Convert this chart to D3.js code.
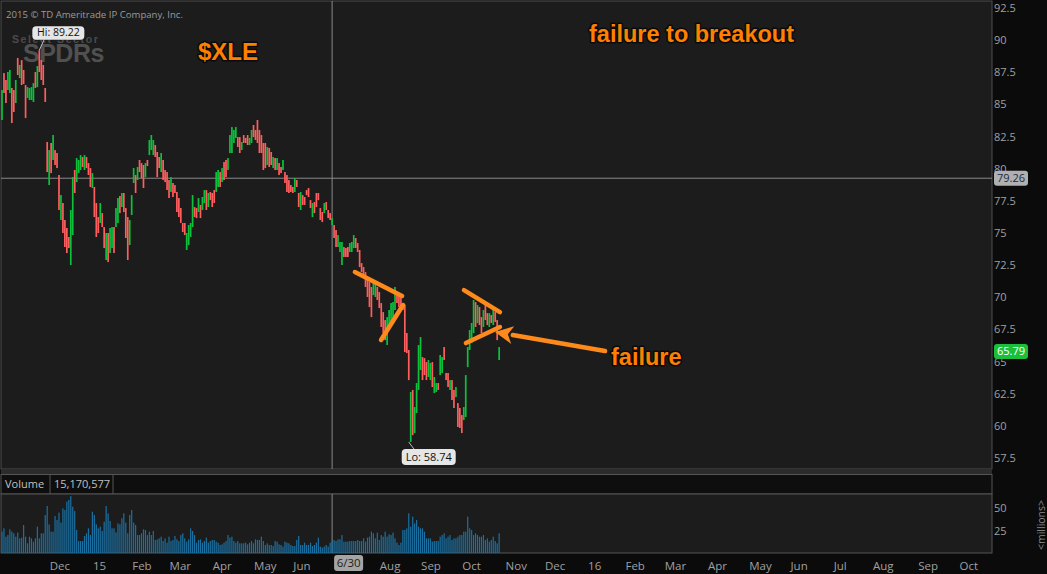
<!DOCTYPE html>
<html><head><meta charset="utf-8">
<script src="https://cdn.jsdelivr.net/npm/d3@7"></script>
<style>
html,body{margin:0;padding:0;background:#0b0b0b;overflow:hidden;}
svg{display:block;font-family:"Open Sans","Noto Sans",sans-serif;}
</style></head><body>
<svg id="c" width="1047" height="574"></svg>
<script>
// ---------- DATA ----------
const highs = [
86.12,87.44,86.90,87.52,87.68,86.28,86.12,86.90,88.61,88.07,
88.45,87.68,86.51,86.35,86.28,86.35,86.66,87.52,87.99,89.22,
88.45,88.07,86.28,82.08,81.45,82.00,82.62,81.45,81.22,79.51,
77.95,77.33,76.01,75.39,74.69,76.79,79.35,79.90,80.83,80.68,
81.06,80.91,81.06,80.91,80.44,80.05,79.66,78.58,77.33,76.24,
77.33,76.55,75.46,75.00,75.00,75.39,75.46,75.46,76.94,77.72,
77.88,78.11,78.11,76.94,76.24,76.01,77.95,80.05,79.51,80.13,
80.68,80.44,80.29,80.44,80.68,82.23,82.62,82.23,81.84,81.30,
80.91,81.22,80.68,79.90,79.74,79.12,79.35,78.89,78.73,78.19,
77.72,76.94,75.78,75.78,75.00,75.62,75.78,77.95,77.02,76.94,
77.72,77.18,77.80,78.34,78.34,78.11,78.19,78.11,78.34,79.74,
79.90,79.74,80.05,80.52,80.68,80.83,82.62,83.24,83.01,83.24,
82.46,82.46,82.08,82.62,82.39,82.62,82.39,83.01,83.40,83.01,
83.79,83.01,82.62,82.00,82.00,81.69,81.61,81.30,80.91,80.83,
80.83,80.44,80.13,80.68,79.74,79.51,79.12,78.73,78.58,79.28,
79.12,78.11,78.19,77.95,77.80,78.34,78.50,77.56,77.33,77.41,
78.11,78.11,76.94,76.63,77.33,77.41,76.79,76.55,76.16,75.62,
75.23,74.84,74.30,74.30,73.91,73.83,73.91,74.22,74.30,74.84,
74.61,74.22,73.68,72.66,72.35,71.96,71.58,71.19,70.80,71.34,
71.11,70.80,70.41,69.55,68.85,68.23,68.46,69.01,69.55,69.63,
70.80,70.17,70.33,70.02,69.55,69.40,67.22,65.90,62.63,62.79,
61.46,63.33,66.29,66.91,65.35,65.27,64.96,65.12,64.89,64.96,
63.80,63.33,63.33,65.51,65.35,66.13,64.11,64.11,63.56,63.56,
62.79,63.02,61.77,61.39,60.84,61.46,63.95,66.13,67.45,68.00,
69.79,69.63,69.40,69.24,68.46,69.01,69.55,68.77,68.77,68.62,
69.01,68.85,68.23,66.13];
const lows = [
83.79,85.89,85.11,86.12,85.89,83.55,84.41,85.11,87.29,87.05,
86.51,86.59,83.94,85.50,85.34,85.34,85.19,86.28,86.35,87.52,
86.90,86.51,85.19,79.74,78.73,79.66,80.68,80.29,80.05,76.79,
76.01,75.00,73.91,73.44,73.83,72.51,74.84,78.11,78.96,79.66,
79.90,80.13,79.90,80.05,79.51,78.58,78.50,76.24,74.69,75.00,
75.78,75.46,73.83,72.90,72.74,73.44,73.83,73.44,75.46,75.78,
76.55,77.02,76.63,74.61,72.90,74.06,76.40,78.89,78.11,79.12,
79.74,79.28,78.50,79.35,80.21,81.06,81.45,81.06,80.91,79.35,
80.05,79.74,79.12,78.96,78.34,77.72,78.19,77.80,78.11,76.63,
76.24,75.78,75.08,74.84,73.68,74.06,74.69,75.46,76.24,76.16,
76.63,76.16,76.79,77.33,76.79,77.02,77.56,77.02,77.33,78.19,
78.58,78.58,78.96,79.12,79.35,79.90,81.22,81.22,82.00,82.39,
81.69,81.22,81.45,82.00,82.00,81.84,81.84,82.00,82.46,82.23,
82.00,81.22,81.22,79.90,80.05,80.29,80.13,80.29,80.05,79.90,
79.90,79.51,79.66,79.90,78.89,78.19,78.11,78.19,78.11,78.19,
78.58,77.02,76.79,77.18,77.18,77.95,77.80,76.94,76.24,76.55,
77.02,77.56,76.01,75.85,76.55,76.79,76.16,76.01,75.62,74.61,
73.91,73.91,73.52,72.51,73.13,73.13,73.13,73.52,73.52,73.83,
73.83,73.52,72.35,71.96,71.58,70.80,70.02,69.24,68.46,70.17,
70.02,69.79,69.16,67.69,67.22,66.67,66.29,67.69,68.00,68.23,
69.01,69.55,69.24,69.24,69.01,65.74,65.66,63.56,58.74,59.28,
59.44,61.00,62.79,64.34,63.56,63.95,63.56,63.80,63.56,63.02,
62.55,62.63,62.79,63.95,64.11,65.12,63.56,63.02,62.79,62.01,
61.39,62.24,59.91,59.83,59.44,60.45,60.69,64.57,65.90,66.44,
67.22,67.69,68.00,67.84,67.22,67.69,68.23,67.84,67.69,68.00,
67.84,68.08,66.67,65.12];
// u = up bar (green), d = down bar (red)
const barDirs = ("udduuddudu ddduuuudud ddddududdd udddduuduu ududdduddd " +
  "udduduuduu duddduuudu ddduduuudd dudddduddd dddduuuudd " +
  "uduududddu ududduuuuu dduddduudd ddddduddud uddudddddu " +
  "ddudddddud ddddudddud duuuddduuu dddddddddu uddddduuuu " +
  "udddddddud uuuuddduud uuduudddud duddduuuuu ududduddud uddu").replace(/ /g, "").split("");
const volumes = [
24.3,27.9,18.8,20.6,26.8,24.3,22.5,18.8,23.2,17.0,17.8,31.5,18.8,11.6,18.8,17.0,13.4,17.0,29.7,17.0,
22.5,22.5,42.4,52.2,32.2,24.3,24.3,41.3,37.0,44.9,34.1,49.6,47.8,56.9,58.7,63.0,51.4,46.7,26.1,14.1,
14.1,14.1,19.6,22.5,27.9,20.6,46.0,42.4,32.2,27.9,29.7,25.0,35.1,52.2,44.2,35.9,27.9,27.9,23.5,33.3,
32.2,38.8,44.2,34.1,22.5,42.4,47.8,34.1,31.5,20.6,20.6,22.5,26.8,26.1,20.6,24.3,20.6,25.0,15.2,15.9,
17.0,18.8,14.1,17.0,12.3,18.8,14.1,15.2,19.6,15.9,14.1,20.6,22.5,17.0,13.4,15.9,27.9,25.0,20.6,12.3,
15.2,15.9,12.3,14.1,17.8,12.3,14.1,15.2,15.2,13.4,12.3,9.8,10.5,12.3,14.1,20.6,17.8,18.8,14.1,12.3,
14.1,11.6,11.6,11.6,12.3,10.5,12.3,14.1,11.6,15.9,15.2,15.2,18.8,14.1,9.8,11.6,9.8,9.8,8.7,14.1,
13.4,10.5,9.8,8.0,13.4,12.3,11.6,9.8,8.7,8.7,15.2,19.6,9.8,9.8,12.3,9.8,9.8,12.3,8.7,9.8,
12.3,17.8,8.0,6.9,8.0,9.8,8.0,12.3,14.1,15.2,14.1,15.9,15.9,20.6,13.4,13.4,13.4,14.1,14.1,14.1,
14.1,15.2,14.1,14.1,17.0,13.4,17.8,18.8,24.3,22.5,17.0,23.2,15.2,20.6,18.8,24.3,18.8,21.4,20.6,23.2,
17.0,12.3,9.8,12.3,26.1,26.1,27.9,44.2,29.7,40.6,33.3,37.0,29.7,27.9,27.9,24.3,17.0,17.0,17.0,13.4,
14.1,14.1,14.1,18.8,20.6,22.5,17.0,18.8,20.6,15.2,17.0,17.0,18.8,20.6,20.6,24.3,24.3,40.6,27.9,26.1,
20.6,22.5,20.6,18.8,18.8,20.6,15.2,17.0,13.4,15.2,18.8,14.1,11.6,22.5];
const priceTicks = [57.5,60,62.5,65,67.5,70,72.5,75,77.5,80,82.5,85,87.5,90,92.5];
const volumeTicks = [25,50];
// month labels (July 2015 is covered by the 6/30 crosshair box in the reference)
const monthLabels = ["Dec","15","Feb","Mar","Apr","May","Jun","Aug","Sep","Oct","Nov",
                     "Dec","16","Feb","Mar","Apr","May","Jun","Jul","Aug","Sep","Oct"];
const monthIndex = [23,45,65,84,106,127,147,191,212,233,255,275,297,316,336,358,379,400,422,442,465,486];
const crossIndex = 168, crossLabel = "6/30", crossPrice = 79.26;
const lastPrice = 65.79;
const hiIndex = 19, hiValue = 89.22, loIndex = 208, loValue = 58.74;
const volumeReadout = "15,170,577";
const trendLines = [[179.6,71.96,203.6,70.10],[192.9,66.68,204.1,69.40],
                    [235.1,70.56,253.4,68.85],[236.1,66.44,253.4,67.69]];
const arrowLine = [306.9,65.82,250.9,67.30];

// ---------- LAYOUT ----------
const svg = d3.select("#c");
const PL = 1, PR = 992, PT = 1, PB = 469;
const VT = 494, VB = 553;
const x = d3.scaleLinear().domain([0, 486]).range([2, 2 + 486 * 1.965]);
const y = d3.scaleLinear().domain([57.5, 92.5]).range([458, 8]);
const yv = d3.scaleLinear().domain([0, 50]).range([554, 508]);
const ORANGE = "#ff8a1c", RED = "#ff5e5e", GREEN = "#0ac23c";

svg.append("rect").attr("width",1047).attr("height",574).attr("fill","#0b0b0b");
// main panel
svg.append("rect").attr("x",PL).attr("y",PT).attr("width",PR-PL).attr("height",PB-PT)
  .attr("fill","#1c1c1c").attr("stroke","#4e4e4e");
// separators
[471,473].forEach(v => svg.append("line").attr("x1",PL).attr("x2",PR).attr("y1",v).attr("y2",v).attr("stroke","#4e4e4e"));
// volume header
svg.append("rect").attr("x",PL).attr("y",474.5).attr("width",PR-PL).attr("height",VT-474.5)
  .attr("fill","#0e0e0e").attr("stroke","#555");
[50,113].forEach(v => svg.append("line").attr("x1",v).attr("x2",v).attr("y1",474.5).attr("y2",VT).attr("stroke","#555"));
svg.append("text").attr("x",5).attr("y",488).attr("fill","#c0c0c0").attr("font-size",11).text("Volume");
svg.append("text").attr("x",54).attr("y",488).attr("fill","#c0c0c0").attr("font-size",11).text(volumeReadout);
// volume panel
svg.append("rect").attr("x",PL).attr("y",VT).attr("width",PR-PL).attr("height",VB-VT)
  .attr("fill","#1c1c1c").attr("stroke","#555");

// copyright + watermark
svg.append("text").attr("x",6).attr("y",18).attr("fill","#9a9a9a").attr("font-size",9.6).text("2015 © TD Ameritrade IP Company, Inc.");
svg.append("text").attr("x",12).attr("y",43).attr("fill","#4b4b4b").attr("font-size",10.5).attr("font-weight","bold")
  .attr("font-family","Liberation Sans, Arial, sans-serif").attr("letter-spacing",1.6).text("Select Sector");
svg.append("text").attr("x",23).attr("y",62).attr("fill","#505050").attr("font-size",25).attr("font-weight","bold")
  .attr("font-family","Liberation Sans, Arial, sans-serif").attr("letter-spacing",-0.5).text("SPDRs");

// crosshair
svg.append("line").attr("x1",PL).attr("x2",PR).attr("y1",y(crossPrice)).attr("y2",y(crossPrice)).attr("stroke","#8a8a8a");
svg.append("line").attr("x1",x(crossIndex)).attr("x2",x(crossIndex)).attr("y1",PT).attr("y2",PB).attr("stroke","#8a8a8a");
svg.append("line").attr("x1",x(crossIndex)).attr("x2",x(crossIndex)).attr("y1",VT).attr("y2",VB).attr("stroke","#8a8a8a");

// price bars
const bars = highs.map((h,i) => ({i, h, l: lows[i], up: barDirs[i] === "u"}));
svg.append("g").selectAll("rect").data(bars).join("rect")
  .attr("x", d => x(d.i) - 0.85).attr("width", 1.7)
  .attr("y", d => y(d.h)).attr("height", d => Math.max(1, y(d.l) - y(d.h)))
  .attr("fill", d => d.up ? GREEN : RED);

// volume bars
svg.append("g").selectAll("rect").data(volumes).join("rect")
  .attr("x", (d,i) => x(i) - 0.6).attr("width", 1.2)
  .attr("y", d => yv(d)).attr("height", d => VB - yv(d))
  .attr("fill", "#1b70a2");

// axes
const pa = svg.append("g").attr("transform",`translate(${PR},0)`)
  .call(d3.axisRight(y).tickValues(priceTicks).tickSize(0).tickPadding(2).tickFormat(d => String(d)));
pa.select(".domain").remove();
pa.selectAll("text").attr("fill","#a0a0a0").attr("font-size",11).attr("font-family","Open Sans, sans-serif");
const va = svg.append("g").attr("transform",`translate(${PR},0)`)
  .call(d3.axisRight(yv).tickValues(volumeTicks).tickSize(0).tickPadding(2));
va.select(".domain").remove();
va.selectAll("text").attr("fill","#a0a0a0").attr("font-size",11).attr("font-family","Open Sans, sans-serif");
const xa = svg.append("g").attr("transform",`translate(0,${VB})`)
  .call(d3.axisBottom(x).tickValues(monthIndex).tickSize(0).tickPadding(9).tickFormat((d,i) => monthLabels[i]));
xa.select(".domain").remove();
xa.selectAll("text").attr("fill","#a0a0a0").attr("font-size",11.5).attr("text-anchor","start").attr("dx",2)
  .attr("font-family","Open Sans, sans-serif");

svg.append("text").attr("transform","translate(1045,525) rotate(-90)").attr("text-anchor","middle")
  .attr("fill","#8a8a8a").attr("font-size",10.5).text("<millions>");

// crosshair date box
const cx = x(crossIndex);
svg.append("rect").attr("x",cx+2).attr("y",555).attr("width",29).attr("height",16).attr("rx",3).attr("fill","#a4a4a4");
svg.append("text").attr("x",cx+16.5).attr("y",567).attr("text-anchor","middle").attr("fill","#1e1e1e").attr("font-size",11.5).text(crossLabel);

// price boxes
function priceBox(v, fill, color) {
  const yy = y(v);
  svg.append("rect").attr("x",994).attr("y",yy-7.5).attr("width",34).attr("height",15).attr("rx",3).attr("fill",fill);
  svg.append("text").attr("x",1011).attr("y",yy+4).attr("text-anchor","middle").attr("fill",color)
    .attr("font-size",11).attr("font-family","Open Sans, sans-serif").text(v.toFixed(2));
}
priceBox(crossPrice, "#b0b0b0", "#1b2a44");
priceBox(lastPrice, "#1bbf3a", "#ffffff");

// Hi / Lo labels
const hx = x(hiIndex), hy = y(hiValue);
svg.append("line").attr("x1",hx).attr("y1",hy).attr("x2",hx+5).attr("y2",hy-11).attr("stroke","#bbb");
svg.append("rect").attr("x",hx-7).attr("y",hy-24).attr("width",52).attr("height",13.5).attr("rx",4).attr("fill","#e6e6e6");
svg.append("text").attr("x",hx+19).attr("y",hy-13.8).attr("text-anchor","middle").attr("fill","#111").attr("font-size",10.5).text("Hi: " + hiValue);
const lx = x(loIndex), ly = y(loValue);
svg.append("line").attr("x1",lx-2).attr("y1",ly).attr("x2",lx+4).attr("y2",ly+8).attr("stroke","#bbb");
svg.append("rect").attr("x",lx-9).attr("y",ly+7).attr("width",54).attr("height",16).attr("rx",4).attr("fill","#e6e6e6");
svg.append("text").attr("x",lx+18).attr("y",ly+19).attr("text-anchor","middle").attr("fill","#111").attr("font-size",11).text("Lo: " + loValue);

// orange annotations
svg.append("g").selectAll("line").data(trendLines).join("line")
  .attr("x1", d => x(d[0])).attr("y1", d => y(d[1])).attr("x2", d => x(d[2])).attr("y2", d => y(d[3]))
  .attr("stroke", ORANGE).attr("stroke-width", 4.5).attr("stroke-linecap","round");
{
  const x1 = x(arrowLine[0]), y1 = y(arrowLine[1]), x2 = x(arrowLine[2]), y2 = y(arrowLine[3]);
  const ang = Math.atan2(y2 - y1, x2 - x1), L = 18, W = 9;
  const bx = x2 - L*Math.cos(ang), by = y2 - L*Math.sin(ang);
  svg.append("line").attr("x1",x1).attr("y1",y1).attr("x2",bx).attr("y2",by)
    .attr("stroke",ORANGE).attr("stroke-width",4.5).attr("stroke-linecap","round");
  const px = -Math.sin(ang), py = Math.cos(ang);
  svg.append("path").attr("d",`M${x2},${y2}L${bx+px*W},${by+py*W}L${bx+5*Math.cos(ang)},${by+5*Math.sin(ang)}L${bx-px*W},${by-py*W}Z`)
    .attr("fill",ORANGE);
}
function label(t, xx, yy, size, anchor) {
  svg.append("text").attr("x",xx).attr("y",yy).attr("text-anchor",anchor || "start")
    .attr("font-family","Liberation Sans, Arial, sans-serif").attr("font-weight","bold").attr("font-size",size)
    .attr("fill","#ff8000").attr("stroke","#0a0a0a").attr("stroke-width",3).attr("paint-order","stroke")
    .attr("stroke-linejoin","round").text(t);
}
label("$XLE", 198, 60, 24);
label("failure to breakout", 589, 42, 23.5);
label("failure", 611, 365, 23.5);
</script>
</body></html>
